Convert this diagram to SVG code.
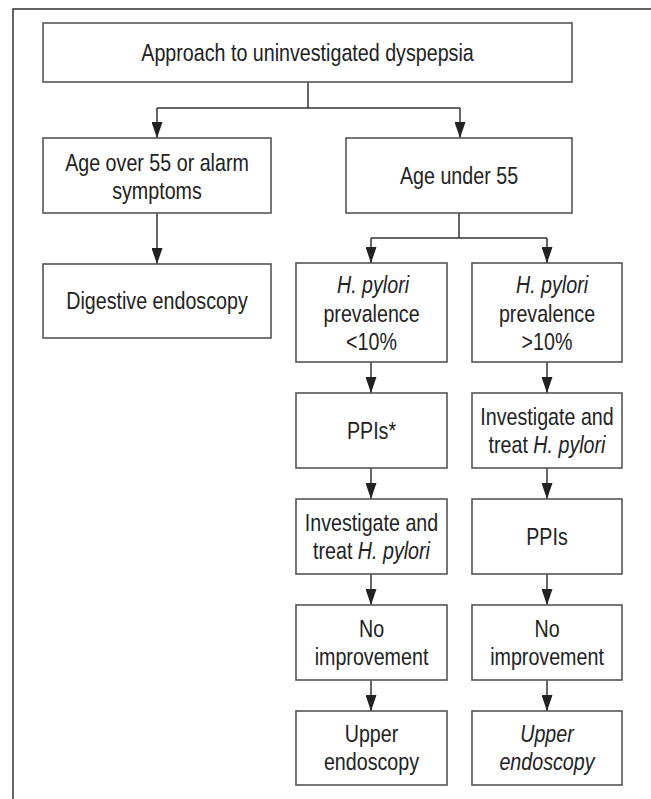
<svg xmlns="http://www.w3.org/2000/svg" width="651" height="799" viewBox="0 0 651 799">
<style>
.box{fill:#fff;stroke:#555;stroke-width:1.6}
.frame{fill:none;stroke:#333;stroke-width:1.5}
.ln{fill:none;stroke:#333;stroke-width:1.5}
.t{font-family:"Liberation Sans",Arial,sans-serif;font-size:24px;fill:#222;text-anchor:middle}
.i{font-style:italic}
</style>
<defs>
<marker id="ah" viewBox="0 0 16 11" refX="16" refY="5.5" markerWidth="16" markerHeight="11" markerUnits="userSpaceOnUse" orient="auto">
<path d="M0,0 L16,5.5 L0,11 z" fill="#222"/>
</marker>
</defs>
<rect width="651" height="799" fill="#fff"/>
<path class="frame" d="M651,9 H13 V799"/>

<g id="connectors">
<path class="ln" d="M308,82 V108 M157,108 H460"/>
<path class="ln" d="M157,108 V138" marker-end="url(#ah)"/>
<path class="ln" d="M460,108 V138" marker-end="url(#ah)"/>
<path class="ln" d="M157,213 V264" marker-end="url(#ah)"/>
<path class="ln" d="M459,213 V238 M371,238 H547"/>
<path class="ln" d="M371,238 V263" marker-end="url(#ah)"/>
<path class="ln" d="M547,238 V263" marker-end="url(#ah)"/>
<path class="ln" d="M371,362 V393" marker-end="url(#ah)"/>
<path class="ln" d="M547,362 V393" marker-end="url(#ah)"/>
<path class="ln" d="M371,468 V499" marker-end="url(#ah)"/>
<path class="ln" d="M547,468 V499" marker-end="url(#ah)"/>
<path class="ln" d="M371,574 V605" marker-end="url(#ah)"/>
<path class="ln" d="M547,574 V605" marker-end="url(#ah)"/>
<path class="ln" d="M371,680 V711" marker-end="url(#ah)"/>
<path class="ln" d="M547,680 V711" marker-end="url(#ah)"/>
</g>

<g id="n-top">
<rect class="box" x="43" y="23" width="529" height="59"/>
<text class="t" transform="translate(307.5,61) scale(0.82,1)">Approach to uninvestigated dyspepsia</text>
</g>

<g id="n-over55">
<rect class="box" x="43" y="138" width="228" height="75"/>
<text class="t" transform="translate(157,171) scale(0.82,1)">Age over 55 or alarm</text>
<text class="t" transform="translate(157,199) scale(0.82,1)">symptoms</text>
</g>

<g id="n-digestive">
<rect class="box" x="43" y="264" width="228" height="74"/>
<text class="t" transform="translate(157,309) scale(0.82,1)">Digestive endoscopy</text>
</g>

<g id="n-under55">
<rect class="box" x="346" y="138" width="226" height="75"/>
<text class="t" transform="translate(459,184) scale(0.82,1)">Age under 55</text>
</g>

<g id="n-hp-low">
<rect class="box" x="296" y="263" width="151" height="99"/>
<text class="t i" transform="translate(373,293) scale(0.82,1)">H. pylori</text>
<text class="t" transform="translate(371.5,321.5) scale(0.82,1)">prevalence</text>
<text class="t" transform="translate(371.5,350) scale(0.82,1)">&lt;10%</text>
</g>

<g id="n-hp-high">
<rect class="box" x="472" y="263" width="150" height="99"/>
<text class="t i" transform="translate(552,293) scale(0.82,1)">H. pylori</text>
<text class="t" transform="translate(547,321.5) scale(0.82,1)">prevalence</text>
<text class="t" transform="translate(547,350) scale(0.82,1)">&gt;10%</text>
</g>

<g id="n-ppis-star">
<rect class="box" x="296" y="393" width="151" height="75"/>
<text class="t" transform="translate(371.5,439) scale(0.82,1)">PPIs*</text>
</g>

<g id="n-treat-right">
<rect class="box" x="472" y="393" width="150" height="75"/>
<text class="t" transform="translate(547,425) scale(0.82,1)">Investigate and</text>
<text class="t" transform="translate(547,453) scale(0.82,1)">treat <tspan class="i">H. pylori</tspan></text>
</g>

<g id="n-treat-left">
<rect class="box" x="296" y="499" width="151" height="75"/>
<text class="t" transform="translate(371.5,531) scale(0.82,1)">Investigate and</text>
<text class="t" transform="translate(371.5,559) scale(0.82,1)">treat <tspan class="i">H. pylori</tspan></text>
</g>

<g id="n-ppis">
<rect class="box" x="472" y="499" width="150" height="75"/>
<text class="t" transform="translate(547,545) scale(0.82,1)">PPIs</text>
</g>

<g id="n-noimp-left">
<rect class="box" x="296" y="605" width="151" height="75"/>
<text class="t" transform="translate(371.5,637) scale(0.82,1)">No</text>
<text class="t" transform="translate(371.5,665) scale(0.82,1)">improvement</text>
</g>

<g id="n-noimp-right">
<rect class="box" x="472" y="605" width="150" height="75"/>
<text class="t" transform="translate(547,637) scale(0.82,1)">No</text>
<text class="t" transform="translate(547,665) scale(0.82,1)">improvement</text>
</g>

<g id="n-upper-left">
<rect class="box" x="296" y="711" width="151" height="74"/>
<text class="t" transform="translate(371.5,742) scale(0.82,1)">Upper</text>
<text class="t" transform="translate(371.5,770) scale(0.82,1)">endoscopy</text>
</g>

<g id="n-upper-right">
<rect class="box" x="472" y="711" width="150" height="74"/>
<text class="t i" transform="translate(547,742) scale(0.82,1)">Upper</text>
<text class="t i" transform="translate(547,770) scale(0.82,1)">endoscopy</text>
</g>
</svg>
